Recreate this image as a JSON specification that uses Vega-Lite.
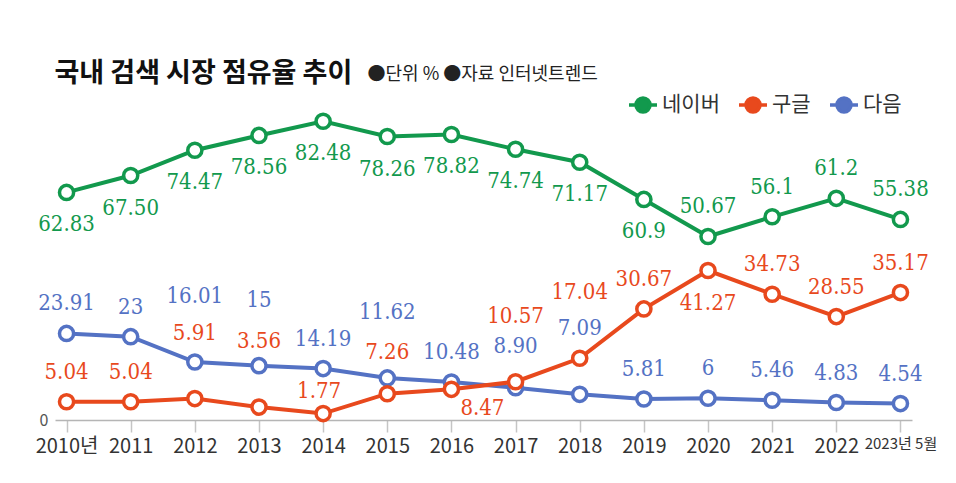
{
  "$schema": "https://vega.github.io/schema/vega-lite/v6.json",
  "width": 857,
  "height": 326,
  "autosize": {"type": "none"},
  "padding": {"left": 55, "top": 94, "right": 44, "bottom": 63},
  "background": "white",
  "config": {"view": {"stroke": null}, "font": "Noto Sans CJK KR"},
  "data": {
    "values": [
      {"series": "다음", "year": "2010년", "share": 23.91, "label": "23.91"},
      {"series": "다음", "year": "2011", "share": 23, "label": "23"},
      {"series": "다음", "year": "2012", "share": 16.01, "label": "16.01"},
      {"series": "다음", "year": "2013", "share": 15, "label": "15"},
      {"series": "다음", "year": "2014", "share": 14.19, "label": "14.19"},
      {"series": "다음", "year": "2015", "share": 11.62, "label": "11.62"},
      {"series": "다음", "year": "2016", "share": 10.48, "label": "10.48"},
      {"series": "다음", "year": "2017", "share": 8.9, "label": "8.90"},
      {"series": "다음", "year": "2018", "share": 7.09, "label": "7.09"},
      {"series": "다음", "year": "2019", "share": 5.81, "label": "5.81"},
      {"series": "다음", "year": "2020", "share": 6, "label": "6"},
      {"series": "다음", "year": "2021", "share": 5.46, "label": "5.46"},
      {"series": "다음", "year": "2022", "share": 4.83, "label": "4.83"},
      {"series": "다음", "year": "2023년 5월", "share": 4.54, "label": "4.54"},
      {"series": "네이버", "year": "2010년", "share": 62.83, "label": "62.83"},
      {"series": "네이버", "year": "2011", "share": 67.5, "label": "67.50"},
      {"series": "네이버", "year": "2012", "share": 74.47, "label": "74.47"},
      {"series": "네이버", "year": "2013", "share": 78.56, "label": "78.56"},
      {"series": "네이버", "year": "2014", "share": 82.48, "label": "82.48"},
      {"series": "네이버", "year": "2015", "share": 78.26, "label": "78.26"},
      {"series": "네이버", "year": "2016", "share": 78.82, "label": "78.82"},
      {"series": "네이버", "year": "2017", "share": 74.74, "label": "74.74"},
      {"series": "네이버", "year": "2018", "share": 71.17, "label": "71.17"},
      {"series": "네이버", "year": "2019", "share": 60.9, "label": "60.9"},
      {"series": "네이버", "year": "2020", "share": 50.67, "label": "50.67"},
      {"series": "네이버", "year": "2021", "share": 56.1, "label": "56.1"},
      {"series": "네이버", "year": "2022", "share": 61.2, "label": "61.2"},
      {"series": "네이버", "year": "2023년 5월", "share": 55.38, "label": "55.38"},
      {"series": "구글", "year": "2010년", "share": 5.04, "label": "5.04"},
      {"series": "구글", "year": "2011", "share": 5.04, "label": "5.04"},
      {"series": "구글", "year": "2012", "share": 5.91, "label": "5.91"},
      {"series": "구글", "year": "2013", "share": 3.56, "label": "3.56"},
      {"series": "구글", "year": "2014", "share": 1.77, "label": "1.77"},
      {"series": "구글", "year": "2015", "share": 7.26, "label": "7.26"},
      {"series": "구글", "year": "2016", "share": 8.47, "label": "8.47"},
      {"series": "구글", "year": "2017", "share": 10.57, "label": "10.57"},
      {"series": "구글", "year": "2018", "share": 17.04, "label": "17.04"},
      {"series": "구글", "year": "2019", "share": 30.67, "label": "30.67"},
      {"series": "구글", "year": "2020", "share": 41.27, "label": "41.27"},
      {"series": "구글", "year": "2021", "share": 34.73, "label": "34.73"},
      {"series": "구글", "year": "2022", "share": 28.55, "label": "28.55"},
      {"series": "구글", "year": "2023년 5월", "share": 35.17, "label": "35.17"}
    ]
  },
  "encoding": {
    "x": {
      "field": "year",
      "type": "ordinal",
      "sort": ["2010년", "2011", "2012", "2013", "2014", "2015", "2016", "2017", "2018", "2019", "2020", "2021", "2022", "2023년 5월"],
      "scale": {"type": "point", "padding": 0.18},
      "axis": {
        "title": "●단위 % ●자료 인터넷트렌드",
        "titleX": 312,
        "titleY": -341,
        "titleAlign": "left",
        "titleBaseline": "alphabetic",
        "titleAngle": 0,
        "titleFontSize": 18,
        "titleFontWeight": "normal",
        "titleColor": "#222",
        "titleFont": "Noto Sans CJK KR",
        "labelAngle": 0,
        "labelFont": "Noto Sans CJK KR",
        "labelFontSize": {"condition": {"test": "datum.value === '2023년 5월'", "value": 15}, "value": 20},
        "labelColor": "#333",
        "labelPadding": 4,
        "labelOverlap": false,
        "labelBound": false,
        "domainColor": "#b5b5b5",
        "domainWidth": 1.5,
        "tickColor": "#c5c5c5",
        "tickWidth": 1.5,
        "tickSize": 12,
        "grid": false
      }
    },
    "y": {
      "field": "share",
      "type": "quantitative",
      "scale": {"domain": [0, 90], "nice": false},
      "axis": {
        "values": [0],
        "domain": false,
        "ticks": false,
        "grid": false,
        "labelPadding": 7,
        "labelFontSize": 16,
        "labelBaseline": "middle",
        "labelColor": "#555",
        "labelFont": "Noto Sans CJK KR",
        "title": "국내 검색 시장 점유율 추이",
        "titleAngle": 0,
        "titleAlign": "left",
        "titleBaseline": "alphabetic",
        "titleX": -1,
        "titleY": -13,
        "titleFontSize": 27,
        "titleFontWeight": 700,
        "titleColor": "#111",
        "titleFont": "Noto Sans CJK KR"
      }
    }
  },
  "layer": [
    {
      "mark": {"type": "line", "strokeWidth": 4},
      "encoding": {
        "color": {
          "field": "series",
          "type": "nominal",
          "scale": {"domain": ["네이버", "구글", "다음"], "range": ["#12994d", "#e8491d", "#5472c4"]},
          "legend": {
            "orient": "none",
            "legendX": 572,
            "legendY": -5,
            "direction": "horizontal",
            "title": null,
            "symbolType": "M-1,0L-0.5,0M0.5,0L1,0M0.5,0A0.5,0.5 0 1,1 -0.5,0A0.5,0.5 0 1,1 0.5,0Z",
            "symbolSize": 784,
            "symbolStrokeWidth": 3.5,
            "symbolFillColor": "#ffffff",
            "symbolOpacity": 1,
            "labelFont": "Noto Sans CJK KR",
            "labelFontSize": 21,
            "labelColor": "#333",
            "labelOffset": 3,
            "columnPadding": 12,
            "encode": {"symbols": {"update": {"fill": {"value": "#ffffff"}, "fillOpacity": {"value": 1}, "strokeWidth": {"value": 3.5}}}}
          }
        }
      }
    },
    {
      "mark": {"type": "point", "filled": false, "fill": "white", "fillOpacity": 1, "opacity": 1, "size": 200, "strokeWidth": 3.5},
      "encoding": {
        "color": {"field": "series", "type": "nominal", "scale": {"domain": ["네이버", "구글", "다음"], "range": ["#12994d", "#e8491d", "#5472c4"]}, "legend": null}
      }
    },
    {
      "transform": [{"filter": "(datum.series === '네이버' && indexof(['2020','2021','2022','2023년 5월'], datum.year) < 0) || (datum.series === '구글' && datum.year === '2020')"}],
      "mark": {"type": "text", "font": "DejaVu Serif Condensed", "fontSize": 22, "baseline": "middle", "align": "center", "dy": 32},
      "encoding": {
        "text": {"field": "label"},
        "color": {"field": "series", "type": "nominal", "scale": {"domain": ["네이버", "구글", "다음"], "range": ["#12994d", "#e8491d", "#5472c4"]}, "legend": null}
      }
    },
    {
      "transform": [{"filter": "(datum.series === '네이버' && indexof(['2020','2021','2022','2023년 5월'], datum.year) >= 0) || (datum.series === '구글' && indexof(['2010년','2011','2019','2021','2022','2023년 5월'], datum.year) >= 0) || (datum.series === '다음' && indexof(['2010년','2011','2014','2016','2019','2020','2021','2022','2023년 5월'], datum.year) >= 0)"}],
      "mark": {"type": "text", "font": "DejaVu Serif Condensed", "fontSize": 22, "baseline": "middle", "align": "center", "dy": -30},
      "encoding": {
        "text": {"field": "label"},
        "color": {"field": "series", "type": "nominal", "scale": {"domain": ["네이버", "구글", "다음"], "range": ["#12994d", "#e8491d", "#5472c4"]}, "legend": null}
      }
    },
    {
      "transform": [{"filter": "datum.series === '구글' && datum.year === '2014'"}],
      "mark": {"type": "text", "font": "DejaVu Serif Condensed", "fontSize": 22, "baseline": "middle", "align": "center", "dx": -4, "dy": -23},
      "encoding": {
        "text": {"field": "label"},
        "color": {"field": "series", "type": "nominal", "scale": {"domain": ["네이버", "구글", "다음"], "range": ["#12994d", "#e8491d", "#5472c4"]}, "legend": null}
      }
    },
    {
      "transform": [{"filter": "(datum.series === '구글' && indexof(['2012','2013','2017','2018'], datum.year) >= 0) || (datum.series === '다음' && indexof(['2012','2013','2015','2018'], datum.year) >= 0)"}],
      "mark": {"type": "text", "font": "DejaVu Serif Condensed", "fontSize": 22, "baseline": "middle", "align": "center", "dy": -66},
      "encoding": {
        "text": {"field": "label"},
        "color": {"field": "series", "type": "nominal", "scale": {"domain": ["네이버", "구글", "다음"], "range": ["#12994d", "#e8491d", "#5472c4"]}, "legend": null}
      }
    },
    {
      "transform": [{"filter": "(datum.series === '구글' && datum.year === '2015') || (datum.series === '다음' && datum.year === '2017')"}],
      "mark": {"type": "text", "font": "DejaVu Serif Condensed", "fontSize": 22, "baseline": "middle", "align": "center", "dy": -42},
      "encoding": {
        "text": {"field": "label"},
        "color": {"field": "series", "type": "nominal", "scale": {"domain": ["네이버", "구글", "다음"], "range": ["#12994d", "#e8491d", "#5472c4"]}, "legend": null}
      }
    },
    {
      "transform": [{"filter": "datum.series === '구글' && datum.year === '2016'"}],
      "mark": {"type": "text", "font": "DejaVu Serif Condensed", "fontSize": 22, "baseline": "middle", "align": "center", "dx": 31, "dy": 19},
      "encoding": {
        "text": {"field": "label"},
        "color": {"field": "series", "type": "nominal", "scale": {"domain": ["네이버", "구글", "다음"], "range": ["#12994d", "#e8491d", "#5472c4"]}, "legend": null}
      }
    }
  ]
}
